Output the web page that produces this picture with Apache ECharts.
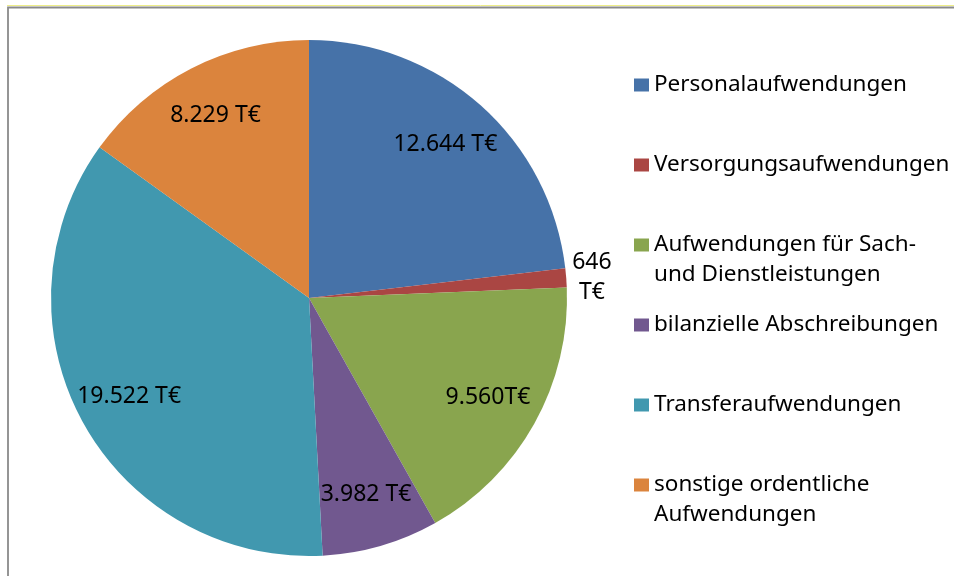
<!DOCTYPE html>
<html>
<head>
<meta charset="utf-8">
<script src="https://cdn.jsdelivr.net/npm/echarts@6/dist/echarts.min.js"></script>
<style>
html,body{margin:0;padding:0;background:#fff}
#chart{width:954px;height:576px}
</style>
</head>
<body>
<div id="chart"></div>
<script>
// Aufwendungen (T€)
var categories = ['Personalaufwendungen', 'Versorgungsaufwendungen', 'Aufwendungen für Sach-\nund Dienstleistungen',
	'bilanzielle Abschreibungen', 'Transferaufwendungen', 'sonstige ordentliche\nAufwendungen'];
var values = [12644, 646, 9560, 3982, 19522, 8229];
var valueLabels = ['12.644 T€', '646\nT€', '9.560T€', '3.982 T€', '19.522 T€', '8.229 T€'];
var colors = ['#4672A8', '#AA4643', '#89A54E', '#71588F', '#4198AF', '#DB843D'];

var FONT = 'Noto Sans';
var total = values.reduce(function (a, b) { return a + b; }, 0);

var pieData = categories.map(function (name, i) {
	return { name: name, value: values[i], itemStyle: { color: colors[i] } };
});

// zweite, unsichtbare Serie nur fuer die Beschriftungen (weiter aussen als Standard)
var labelData = categories.map(function (name, i) {
	var small = values[i] / total < 0.03;
	var item = { name: name, value: values[i] };
	if (small) {
		item.label = {
			position: 'outside',
			distanceToLabelLine: 4,
			formatter: valueLabels[i].split('\n').map(function (s) { return '{c|' + s + '}'; }).join('\n'),
			rich: { c: { align: 'center', fontFamily: FONT, fontSize: 23, color: '#000', lineHeight: 30 } }
		};
		item.labelLine = { show: false, length: 2, length2: 0 };
	}
	return item;
});

var myChart = echarts.init(document.getElementById('chart'));
var option = {
	backgroundColor: '#fff',
	animation: false,
	graphic: [
		{ type: 'line', shape: { x1: 7, y1: 5.5, x2: 954, y2: 5.5 }, style: { stroke: '#eeee88', lineWidth: 1 } },
		{ type: 'rect', shape: { x: 8, y: 7.5, width: 1000, height: 1000 }, style: { fill: 'none', stroke: '#8a8a8a', lineWidth: 1.8 } }
	],
	legend: {
		orient: 'vertical',
		left: 634,
		top: 40,
		padding: 0,
		icon: 'rect',
		itemWidth: 15,
		itemHeight: 13,
		itemGap: -10,
		textGap: 8,
		selectedMode: false,
		data: categories,
		// immer drei Zeilen, Name beginnt in der mittleren (auf Hoehe des Symbols)
		formatter: function (name) {
			return name.indexOf('\n') < 0 ? ' \n' + name + '\n ' : ' \n' + name;
		},
		textStyle: { fontFamily: FONT, fontSize: 22.5, color: '#000', lineHeight: 30 }
	},
	series: [{
		type: 'pie',
		center: [309, 298],
		radius: [0, 258],
		startAngle: 90,
		clockwise: true,
		silent: true,
		label: { show: false },
		labelLine: { show: false },
		itemStyle: { borderWidth: 0 },
		data: pieData
	}, {
		type: 'pie',
		center: [309, 298],
		radius: [146, 258],
		startAngle: 90,
		clockwise: true,
		silent: true,
		itemStyle: { color: 'rgba(0,0,0,0)', borderWidth: 0 },
		label: {
			show: true,
			position: 'inside',
			fontFamily: FONT,
			fontSize: 23,
			color: '#000',
			formatter: function (p) { return valueLabels[p.dataIndex]; }
		},
		labelLine: { show: false },
		data: labelData
	}]
};
myChart.setOption(option);
</script>
</body>
</html>
